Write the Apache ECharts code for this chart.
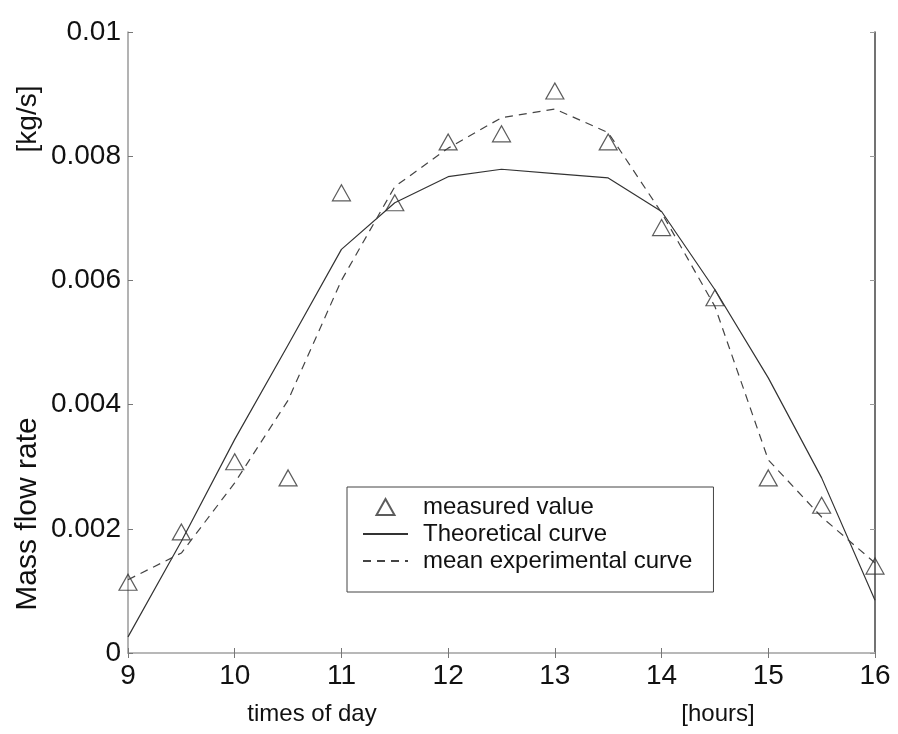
<!DOCTYPE html>
<html>
<head>
<meta charset="utf-8">
<script src="https://cdn.jsdelivr.net/npm/echarts@6/dist/echarts.min.js"></script>
<style>
  html, body { margin: 0; padding: 0; background: #fff; }
  #chart { width: 898px; height: 734px; }
</style>
</head>
<body>
<div id="chart"></div>
<script>
  // hours of the day
  var hours = [9, 9.5, 10, 10.5, 11, 11.5, 12, 12.5, 13, 13.5, 14, 14.5, 15, 15.5, 16];
  // triangles
  var measured = [0.00114, 0.00195, 0.00308, 0.00282, 0.00741, 0.00725, 0.00823, 0.00836,
                  0.00905, 0.00823, 0.00685, 0.00572, 0.00282, 0.00238, 0.00140];
  // solid line
  var theoretical = [0.00026, 0.00180, 0.00344, 0.00496, 0.00650, 0.00725, 0.00767, 0.00779,
                     0.00772, 0.00765, 0.00711, 0.00585, 0.00443, 0.00282, 0.00085];
  // dashed line
  var meanExperimental = [0.00118, 0.00161, 0.00274, 0.00407, 0.00600, 0.00751, 0.00813, 0.00862,
                          0.00876, 0.00838, 0.00709, 0.00558, 0.00311, 0.00219, 0.00145];
  var xTickLabels = ['9', '10', '11', '12', '13', '14', '15', '16'];
  var yTickLabels = ['0', '0.002', '0.004', '0.006', '0.008', '0.01'];

  function pairs(ys) {
    return hours.map(function (h, i) { return [h, ys[i]]; });
  }

  var font = "'Liberation Sans', Arial, Helvetica, sans-serif";

  echarts.init(document.getElementById('chart')).setOption({
    backgroundColor: '#fff',
    animation: false,
    textStyle: { fontFamily: font },
    grid: {
      left: 128,
      right: 23,
      top: 32,
      bottom: 81,
      outerBoundsMode: 'none'
    },
    legend: {
      orient: 'vertical',
      left: 347,
      top: 487,
      padding: [8, 21, 19, 15],
      itemWidth: 45,
      itemHeight: 16,
      itemGap: 3,
      borderColor: '#444',
      borderWidth: 1,
      textStyle: {
        fontFamily: font,
        fontSize: 24,
        lineHeight: 24,
        color: '#111',
        padding: [0, 0, 0, 10]
      },
      data: [
        { name: 'measured value', icon: 'path://M9,0 L18,16 L0,16 Z' },
        { name: 'Theoretical curve', itemStyle: { opacity: 0 } },
        { name: 'mean experimental curve', itemStyle: { opacity: 0 } }
      ]
    },
    xAxis: [
      {
        type: 'value',
        min: 9,
        max: 16,
        interval: 1,
        axisLine: { lineStyle: { color: '#9a9a9a', width: 1.5 } },
        axisTick: { inside: true, length: 5, lineStyle: { color: '#777' } },
        splitLine: { show: false },
        axisLabel: {
          margin: 9,
          fontSize: 28,
          color: '#111',
          fontFamily: font,
          formatter: function (v) { return xTickLabels[Math.round(v - 9)]; }
        }
      },
      {
        type: 'value',
        position: 'top',
        min: 9,
        max: 16,
        interval: 1,
        axisLine: { lineStyle: { color: '#bbb', width: 1.5 } },
        axisTick: { inside: true, length: 5, lineStyle: { color: '#777' } },
        splitLine: { show: false },
        axisLabel: { show: false }
      }
    ],
    yAxis: [
      {
        type: 'value',
        min: 0,
        max: 0.01,
        interval: 0.002,
        axisLine: { lineStyle: { color: '#9a9a9a', width: 1.5 } },
        axisTick: { inside: true, length: 5, lineStyle: { color: '#777' } },
        splitLine: { show: false },
        axisLabel: {
          margin: 7,
          fontSize: 28,
          color: '#111',
          fontFamily: font,
          formatter: function (v) { return yTickLabels[Math.round(v / 0.002)]; }
        }
      },
      {
        type: 'value',
        position: 'right',
        min: 0,
        max: 0.01,
        interval: 0.002,
        axisLine: { lineStyle: { color: '#444', width: 1.5 } },
        axisTick: { inside: true, length: 5, lineStyle: { color: '#999' } },
        splitLine: { show: false },
        axisLabel: { show: false }
      }
    ],
    graphic: [
      {
        type: 'text', x: 28, y: 514, rotation: Math.PI / 2,
        style: { text: 'Mass flow rate', font: '30px ' + font, fill: '#111', align: 'center', verticalAlign: 'middle' }
      },
      {
        type: 'text', x: 28, y: 119, rotation: Math.PI / 2,
        style: { text: '[kg/s]', font: '28px ' + font, fill: '#111', align: 'center', verticalAlign: 'middle' }
      },
      {
        type: 'text', x: 312, y: 714,
        style: { text: 'times of day', font: '24px ' + font, fill: '#111', align: 'center', verticalAlign: 'middle' }
      },
      {
        type: 'text', x: 718, y: 714,
        style: { text: '[hours]', font: '24px ' + font, fill: '#111', align: 'center', verticalAlign: 'middle' }
      }
    ],
    series: [
      {
        name: 'measured value',
        type: 'scatter',
        symbol: 'triangle',
        symbolSize: [18, 16],
        itemStyle: { color: 'rgba(255,255,255,0)', borderColor: '#333', borderWidth: 1.2 },
        data: pairs(measured),
        z: 3
      },
      {
        name: 'Theoretical curve',
        type: 'line',
        symbol: 'none',
        lineStyle: { color: '#333', width: 1.2, type: 'solid' },
        itemStyle: { color: '#333' },
        data: pairs(theoretical)
      },
      {
        name: 'mean experimental curve',
        type: 'line',
        symbol: 'none',
        lineStyle: { color: '#444', width: 1.2, type: [8, 6] },
        itemStyle: { color: '#444' },
        data: pairs(meanExperimental)
      }
    ]
  });
</script>
</body>
</html>
